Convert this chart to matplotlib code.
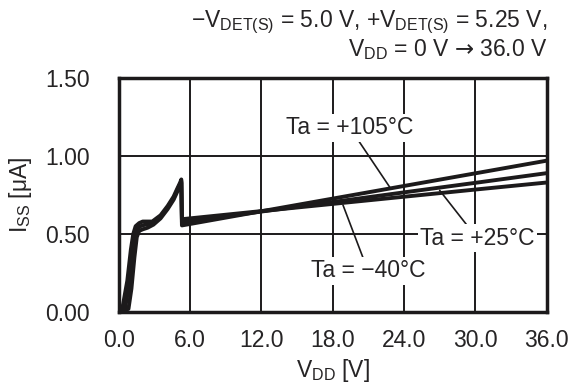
import matplotlib
matplotlib.use("Agg")
import matplotlib.pyplot as plt

plt.rcParams['font.family'] = ['Liberation Sans', 'DejaVu Sans']
plt.rcParams['mathtext.fontset'] = 'custom'
plt.rcParams['mathtext.rm'] = 'Liberation Sans'
plt.rcParams['mathtext.it'] = 'Liberation Sans:italic'
plt.rcParams['mathtext.bf'] = 'Liberation Sans:bold'
plt.rcParams['mathtext.sf'] = 'DejaVu Sans'

# Supply current vs supply voltage, three temperatures
vdd_m40 = [0.0, 0.3, 0.7, 1.0, 1.2, 1.4, 1.7, 2.0, 2.8, 3.5, 4.1, 4.6, 4.9, 5.15, 5.25, 5.3, 12.0, 18.0, 24.0, 30.0, 36.0]
iss_m40 = [0.0, 0.03, 0.20, 0.40, 0.50, 0.55, 0.57, 0.58, 0.58, 0.62, 0.68, 0.74, 0.79, 0.83, 0.85, 0.595, 0.647, 0.693, 0.739, 0.785, 0.83]

vdd_25 = [0.0, 0.5, 0.8, 1.1, 1.3, 1.5, 1.8, 2.2, 2.8, 3.5, 4.1, 4.6, 4.9, 5.15, 5.25, 5.3, 12.0, 18.0, 24.0, 30.0, 36.0]
iss_25 = [0.0, 0.02, 0.15, 0.35, 0.48, 0.53, 0.55, 0.56, 0.57, 0.61, 0.67, 0.73, 0.78, 0.82, 0.84, 0.575, 0.644, 0.705, 0.767, 0.828, 0.89]

vdd_105 = [0.0, 0.8, 1.05, 1.3, 1.5, 1.7, 2.0, 2.4, 2.9, 3.5, 4.1, 4.6, 4.9, 5.15, 5.25, 5.3, 12.0, 18.0, 24.0, 30.0, 36.0]
iss_105 = [0.0, 0.02, 0.15, 0.35, 0.48, 0.52, 0.53, 0.54, 0.56, 0.60, 0.66, 0.72, 0.77, 0.81, 0.83, 0.555, 0.646, 0.727, 0.808, 0.889, 0.97]

x_ticks = [0.0, 6.0, 12.0, 18.0, 24.0, 30.0, 36.0]
y_ticks = [0.00, 0.50, 1.00, 1.50]

INK = '#1c1a1b'
TXT = '#262425'
FS = 16.5


def main():
    fig = plt.figure(figsize=(5.72, 3.87), dpi=100)
    ax = fig.add_axes([0.208, 0.1938, 0.7475, 0.6046])

    for v, i in [(vdd_m40, iss_m40), (vdd_25, iss_25), (vdd_105, iss_105)]:
        ax.plot(v, i, color=INK, linewidth=2.8, solid_joinstyle='round', zorder=3)

    ax.set_xlim(0, 36)
    ax.set_ylim(0, 1.5)
    ax.set_xticks(x_ticks)
    ax.set_yticks(y_ticks)
    ax.set_xticklabels([f"{t:.1f}" for t in x_ticks])
    ax.set_yticklabels([f"{t:.2f}" for t in y_ticks])
    ax.tick_params(length=0, labelsize=FS, colors=TXT)
    ax.tick_params(axis='x', pad=12)
    ax.tick_params(axis='y', pad=21)
    ax.grid(True, color=INK, linewidth=1.4)
    for s in ax.spines.values():
        s.set_linewidth(2.5)
        s.set_color(INK)

    ax.set_xlabel(r"V$_{\mathrm{DD}}$ [V]", fontsize=FS, labelpad=4, color=TXT)
    fig.text(21 / 572, 0.496, r"I$_{\mathrm{SS}}$ [$\mathrm{\mu}$A]", fontsize=FS,
             rotation=90, ha='center', va='center', color=TXT)

    box = dict(boxstyle='square,pad=0.1', fc='white', ec='none')
    arrow = dict(arrowstyle='-', color=INK, linewidth=1.2, shrinkA=0, shrinkB=0)
    ax.annotate("Ta = +105°C", xy=(22.8, 0.80), xytext=(19.45, 1.18), color=TXT,
                ha='center', va='center', fontsize=FS, bbox=box, arrowprops=arrow, zorder=4)
    ax.annotate("Ta = +25°C", xy=(27.0, 0.78), xytext=(30.15, 0.474), color=TXT,
                ha='center', va='center', fontsize=FS, bbox=box, arrowprops=arrow, zorder=4)
    ax.annotate("Ta = −40°C", xy=(18.86, 0.686), xytext=(20.97, 0.263), color=TXT,
                ha='center', va='center', fontsize=FS, bbox=box, arrowprops=arrow, zorder=4)

    fig.text(0.957, 0.943, r"$-$V$_{\mathrm{DET(S)}}$ = 5.0 V, +V$_{\mathrm{DET(S)}}$ = 5.25 V,",
             ha='right', va='center', fontsize=FS, color=TXT)
    fig.text(0.957, 0.873, r"V$_{\mathrm{DD}}$ = 0 V $\mathsf{→}$ 36.0 V",
             ha='right', va='center', fontsize=FS, color=TXT)

    fig.savefig("out.png", dpi=100)


if __name__ == "__main__":
    main()
